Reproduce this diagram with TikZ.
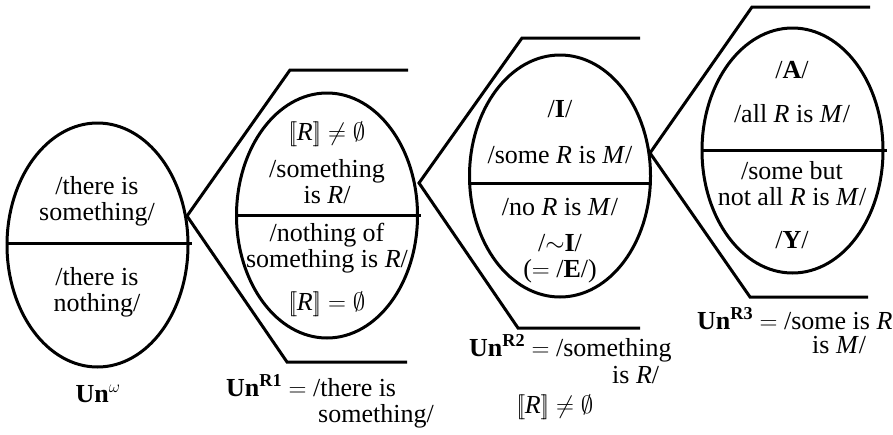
\documentclass[tikz,border=0pt]{standalone}
\usepackage{fontspec}
\setmainfont{Liberation Serif}
\usetikzlibrary{shapes.geometric}
\newcommand{\sem}[1]{[\![#1]\!]}
\newcommand{\Un}[1]{\textbf{Un}\textsuperscript{\textbf{#1}}}

\begin{document}
\begin{tikzpicture}[x=1pt, y=-1pt,
  font=\fontsize{26}{25.5}\selectfont,
  world/.style={draw, ellipse, line width=3pt, minimum width=181pt,
                minimum height=#1, inner sep=0pt},
  world/.default=244pt,
  cut/.style={line width=3pt},
  fork/.style={line width=3pt},
  txt/.style={align=center, anchor=base, inner sep=0pt},
  lbl/.style={anchor=base west, inner sep=0pt}
]
  \useasboundingbox (0,0) rectangle (893,434);

  % the four worlds
  \node[world]        (un0) at (97.5,245)  {};
  \node[world=245pt]  (un1) at (327,215.5) {};
  \node[world=242pt]  (un2) at (560,176)   {};
  \node[world=245pt]  (un3) at (792.5,150.5) {};
  \draw[cut] ([yshift=2pt]un0.west) -- ([xshift=2pt,yshift=2pt]un0.east);
  \draw[cut] (un1.west) -- ([xshift=2pt]un1.east);
  \draw[cut] ([yshift=-7pt]un2.west) -- ([yshift=-7pt]un2.east);
  \draw[cut] (un3.west) -- ([xshift=2pt]un3.east);

  % forks
  \coordinate (f1) at (187,216);
  \coordinate (f2) at (419,183);
  \coordinate (f3) at (650,153);
  \draw[fork] (408,70) -- (290,70) -- (f1) -- (287,362) -- (407,362);
  \draw[fork] (640,38) -- (522,38) -- (f2) -- (518,328) -- (640,328);
  \draw[fork] (870,7)  -- (752,7)  -- (f3) -- (750,297) -- (868,297);

  % texts inside (base = last line)
  \node[txt] (t0a) at (97,220)  {/there is\\something/};
  \node[txt] (t0b) at (97,311)  {/there is\\nothing/};

  \node[txt] (t1a) at (327,140) {$\sem{\mbox{\itshape R}}\neq\emptyset$};
  \node[txt] (t1b) at (327,203) {/something\\is \textit{R}/};
  \node[txt] (t1c) at (327,267) {/nothing of\\something is \textit{R}/};
  \node[txt] (t1d) at (327,310) {$\sem{\mbox{\itshape R}}=\emptyset$};

  \node[txt] (t2a) at (560,117) {/\textbf{I}/};
  \node[txt] (t2b) at (560,163) {/some \textit{R} is \textit{M}/};
  \node[txt] (t2c) at (560,215) {/no \textit{R} is \textit{M}/};
  \node[txt] (t2d) at (560,277) {/$\sim$\textbf{I}/\\($=$ /\textbf{E}/)};

  \node[txt] (t3a) at (792,78)  {/\textbf{A}/};
  \node[txt] (t3b) at (792,122) {/all \textit{R} is \textit{M}/};
  \node[txt] (t3c) at (792,205) {/some but\\not all \textit{R} is \textit{M}/};
  \node[txt] (t3d) at (792,248) {/\textbf{Y}/};

  % labels below
  \node[txt] (l0)  at (98,402)  {\textbf{Un}$^{\omega}$};
  \node[lbl] (l1)  at (226,396) {\Un{R1} $=$ /there is};
  \node[lbl] (l1b) at (318,422) {something/};
  \node[lbl] (l2)  at (469,356) {\Un{R2} $=$ /something};
  \node[lbl] (l2b) at (612,383) {is \textit{R}/};
  \node[txt] (l2c) at (555,413) {$\sem{\mbox{\itshape R}}\neq\emptyset$};
  \node[lbl] (l3)  at (697,329) {\Un{R3} $=$ /some is \textit{R}};
  \node[lbl] (l3b) at (812,353) {is \textit{M}/};
\end{tikzpicture}
\end{document}
